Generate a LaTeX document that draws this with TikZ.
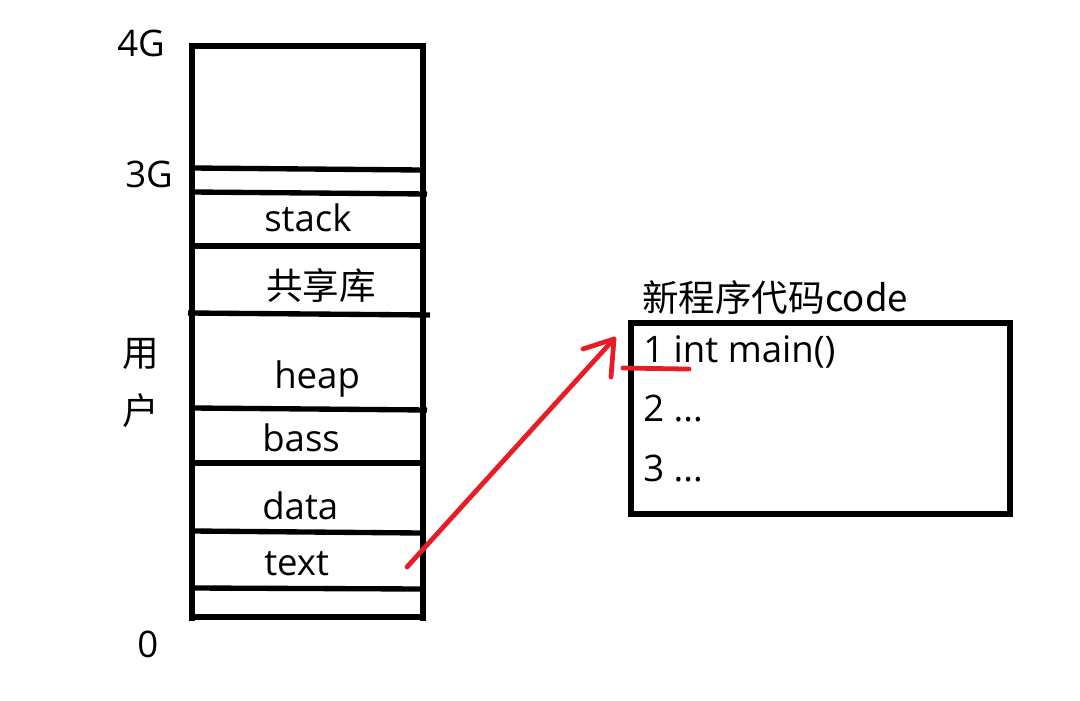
\documentclass[tikz,border=0pt]{standalone}
\usepackage{fontspec}
\setmainfont{Open Sans}
\newfontfamily\cjk{Noto Sans CJK SC}
\usetikzlibrary{positioning}
\definecolor{penred}{RGB}{232,28,36}
\tikzset{lbl/.style = {anchor=base west, inner sep=0pt, font=\fontsize{26}{31}\selectfont},
  cjklbl/.style = {lbl, font=\fontsize{26}{31}\selectfont\cjk},
  wall/.style = {line width=3.8pt},
  redpen/.style = {penred, line width=3.4pt, line cap=round, line join=round}}

\begin{document}
\begin{tikzpicture}[x=0.025cm, y=-0.025cm]
        \useasboundingbox (0,0) rectangle (1080,701);
        % address space column
        \draw [wall] (192,621) -- (192,46) -- (423,46) -- (423,621);
        \draw [wall] (192,168) -- (420,170);
        \draw [wall] (192,192) -- (427,194);
        \draw [wall] (192,246) -- (420,246);
        \draw [wall] (188,313) -- (430,315);
        \draw [wall] (192,408) -- (427,410);
        \draw [wall] (192,463) -- (420,463);
        \draw [wall] (192,531) -- (420,533);
        \draw [wall] (192,588) -- (420,589);
        \draw [wall] (192,617) -- (420,617);
        % addresses
        \node [lbl] (top) at (117,57) {4G};
        \node [lbl] (kern) at (125,188) {3G};
        \node [cjklbl] (yong) at (122,367) {用};
        \node [cjklbl] (hu) at (122,425) {户};
        \node [lbl] (zero) at (137,657) {0};
        % segments
        \node [lbl] (stack) at (264,232) {stack};
        \node [cjklbl] (shlib) at (266,300) {共享库};
        \node [lbl] (heap) at (274,389) {heap};
        \node [lbl] (bss) at (262,452) {bass};
        \node [lbl] (data) at (262,520) {data};
        \node [lbl] (text) at (264,575) {text};
        % new program code
        \node [cjklbl] (title) at (642,312) {新程序代码code};
        \draw [wall] (631,323) rectangle (1010,514);
        \node [lbl] (line1) at (643,363) {1 int main()};
        \node [lbl] (line2) at (643,422) {2 ...};
        \node [lbl] (line3) at (643,482) {3 ...};
        \coordinate (from) at (407,567);
        \coordinate (tip) at (614,339);
        \coordinate (barbl) at (583,349);
        \coordinate (barbr) at (611,377);
        \draw [redpen] (from) -- (tip);
        \draw [redpen] (barbl) -- (tip) -- (barbr);
        \draw [redpen] (623,368) -- (line1.south west -| 689,0);
      \end{tikzpicture}
\end{document}
